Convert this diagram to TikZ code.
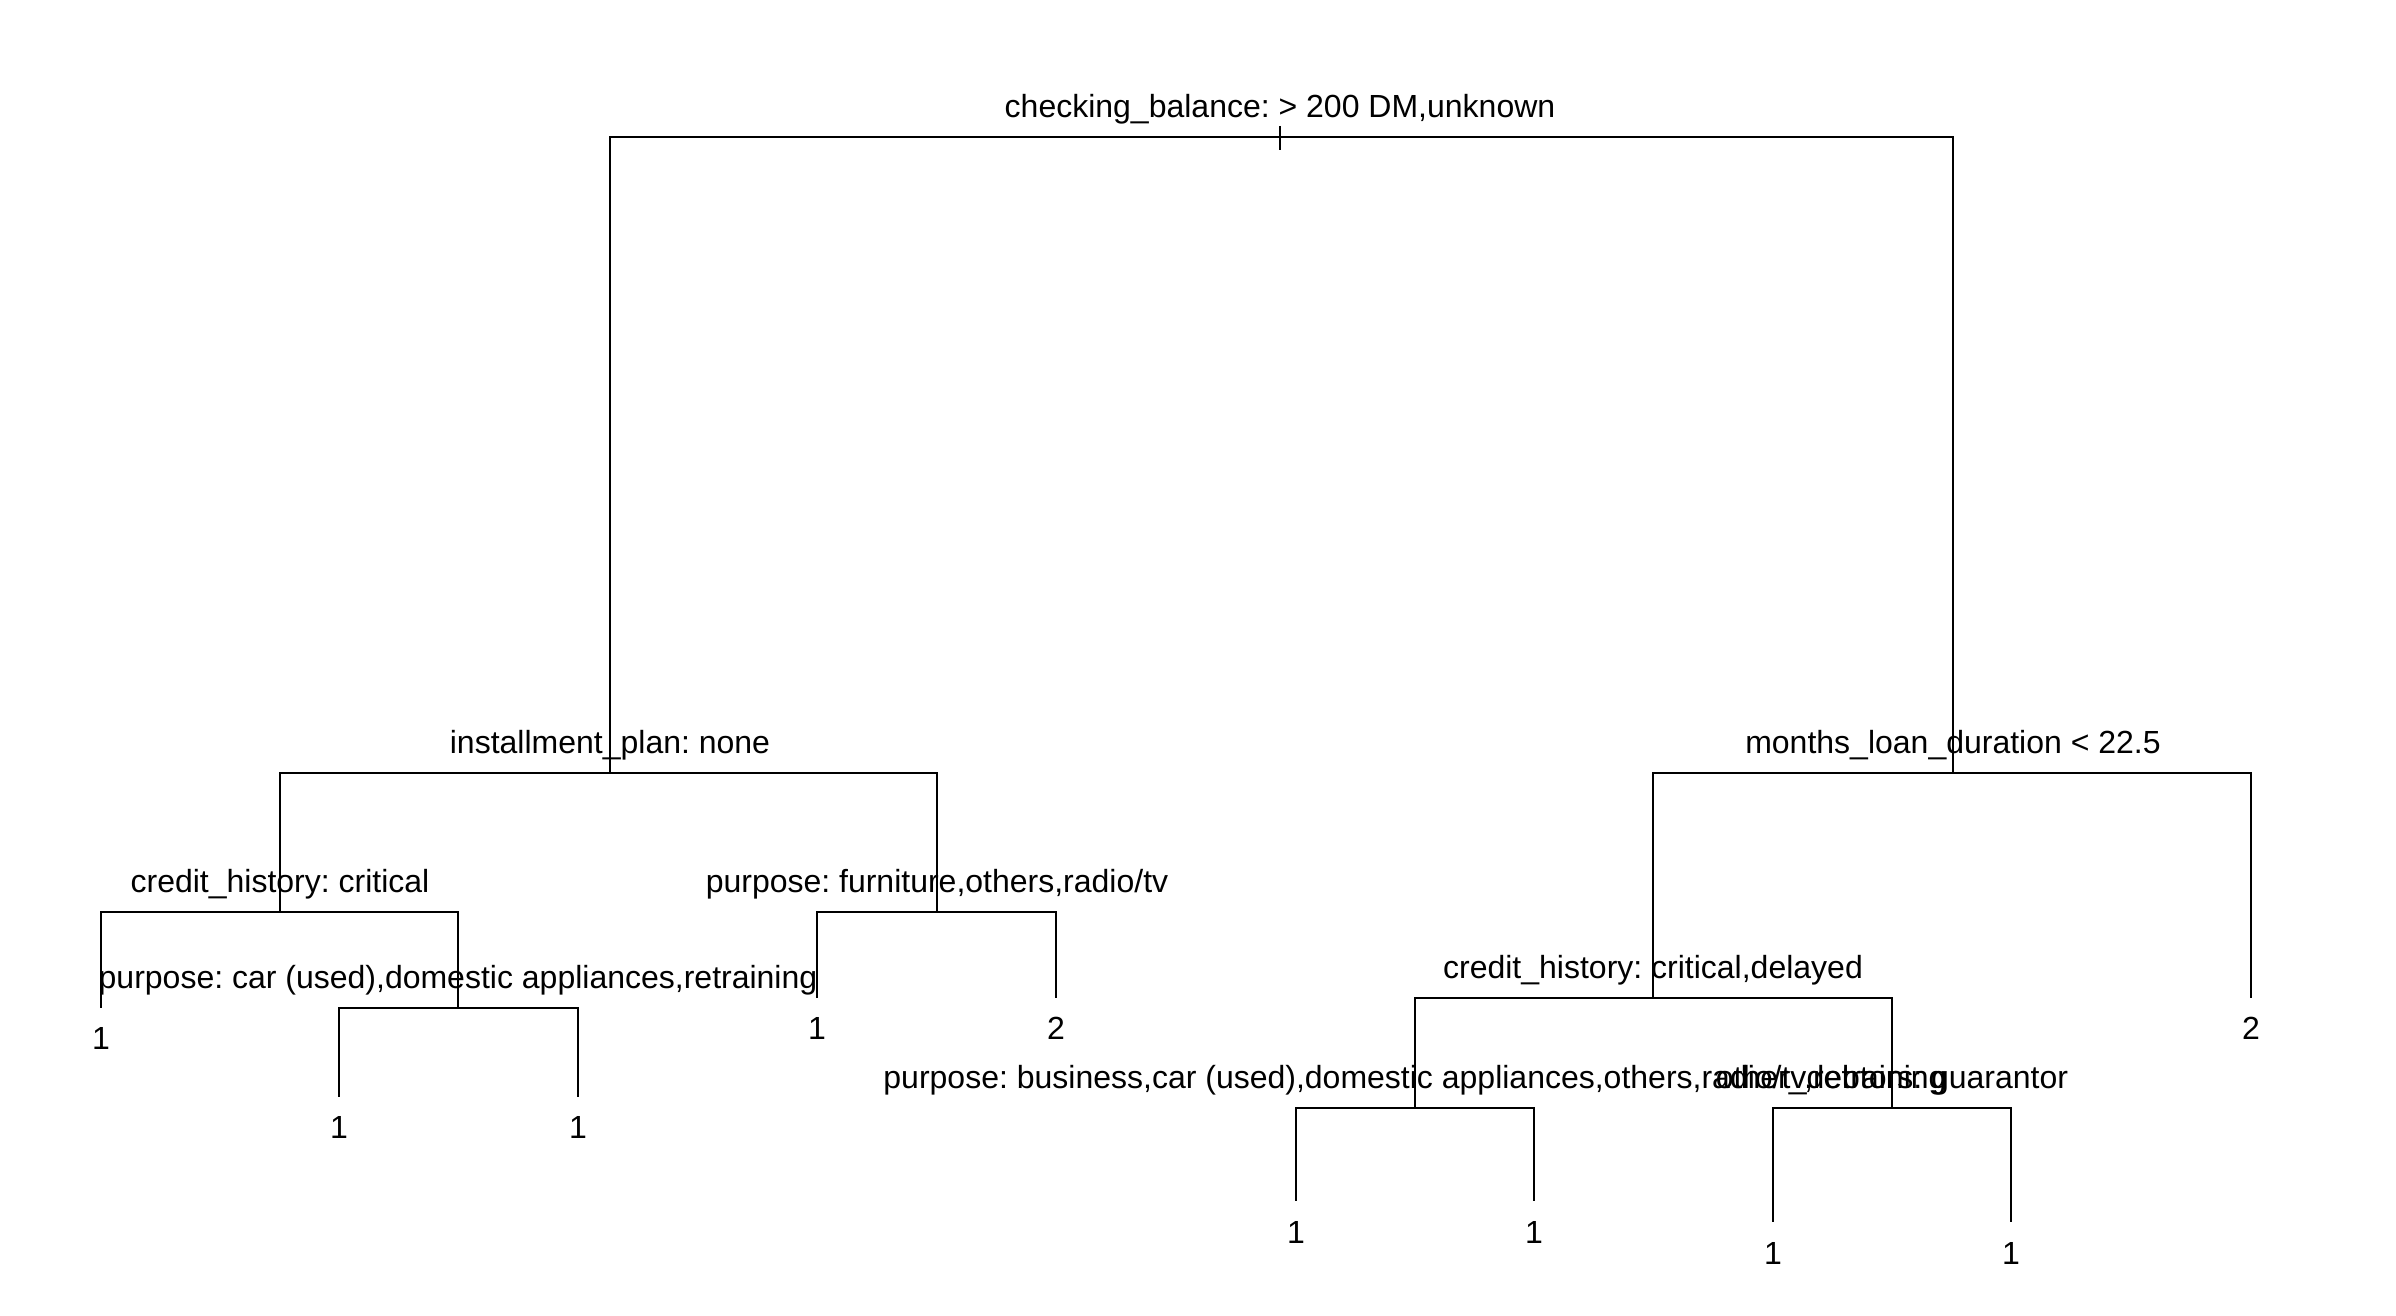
\documentclass[tikz,border=0pt]{standalone}
\usepackage{fontspec}
\setmainfont{Liberation Sans}
\frenchspacing
\usetikzlibrary{positioning}
\tikzstyle{splitlbl} = [anchor=base, inner sep=0pt, font=\fontsize{9.1}{11}\selectfont]
\tikzstyle{leaflbl} = [anchor=base, inner sep=0pt, font=\fontsize{9.1}{11}\selectfont]
\tikzstyle{elbow} = [line width=0.7pt, to path={-| (\tikztotarget)}]

\begin{document}
\begin{tikzpicture}[x=0.01cm,y=-0.01cm]
    \useasboundingbox (0,0) rectangle (2396,1316);

    % Splits
    \coordinate (root) at (1280,137);
    \coordinate (instPlan) at (610,773);
    \coordinate (loanDur) at (1953,773);
    \coordinate (credHist) at (280,912);
    \coordinate (purpFurn) at (937,912);
    \coordinate (credHistDel) at (1653,998);
    \coordinate (purpCar) at (458,1008);
    \coordinate (purpBus) at (1415,1108);
    \coordinate (otherDebt) at (1892,1108);

    % Leaves
    \coordinate (leafA) at (101,1008);
    \coordinate (leafB) at (339,1097);
    \coordinate (leafC) at (578,1097);
    \coordinate (leafD) at (817,998);
    \coordinate (leafE) at (1056,998);
    \coordinate (leafF) at (1296,1201);
    \coordinate (leafG) at (1534,1201);
    \coordinate (leafH) at (1773,1222);
    \coordinate (leafI) at (2011,1222);
    \coordinate (leafJ) at (2251,998);

    % Split labels
    \node[splitlbl] (rootTxt) at (1280,118) {checking\_balance: > 200 DM,unknown};
    \node[splitlbl] (instPlanTxt) at (610,754) {installment\_plan: none};
    \node[splitlbl] (loanDurTxt) at (1953,754) {months\_loan\_duration < 22.5};
    \node[splitlbl] (credHistTxt) at (280,893) {credit\_history: critical};
    \node[splitlbl] (purpFurnTxt) at (937,893) {purpose: furniture,others,radio/tv};
    \node[splitlbl] (credHistDelTxt) at (1653,979) {credit\_history: critical,delayed};
    \node[splitlbl] (purpCarTxt) at (458,989) {purpose: car (used),domestic appliances,retraining};
    \node[splitlbl] (purpBusTxt) at (1415,1089) {purpose: business,car (used),domestic appliances,others,radio/tv,retraining};
    \node[splitlbl] (otherDebtTxt) at (1892,1089) {other\_debtors: guarantor};

    % Leaf labels
    \node[leaflbl] (leafATxt) at (101,1050) {1};
    \node[leaflbl] (leafBTxt) at (339,1139) {1};
    \node[leaflbl] (leafCTxt) at (578,1139) {1};
    \node[leaflbl] (leafDTxt) at (817,1040) {1};
    \node[leaflbl] (leafETxt) at (1056,1040) {2};
    \node[leaflbl] (leafFTxt) at (1296,1243) {1};
    \node[leaflbl] (leafGTxt) at (1534,1243) {1};
    \node[leaflbl] (leafHTxt) at (1773,1264) {1};
    \node[leaflbl] (leafITxt) at (2011,1264) {1};
    \node[leaflbl] (leafJTxt) at (2251,1040) {2};

    % Branches
    \draw[line width=0.7pt] ([yshift=0.11cm]root) -- ([yshift=-0.13cm]root);
    \path
    (root) edge[elbow] (instPlan)
    (root) edge[elbow] (loanDur)
    (instPlan) edge[elbow] (credHist)
    (instPlan) edge[elbow] (purpFurn)
    (loanDur) edge[elbow] (credHistDel)
    (loanDur) edge[elbow] (leafJ)
    (credHist) edge[elbow] (leafA)
    (credHist) edge[elbow] (purpCar)
    (purpCar) edge[elbow] (leafB)
    (purpCar) edge[elbow] (leafC)
    (purpFurn) edge[elbow] (leafD)
    (purpFurn) edge[elbow] (leafE)
    (credHistDel) edge[elbow] (purpBus)
    (credHistDel) edge[elbow] (otherDebt)
    (purpBus) edge[elbow] (leafF)
    (purpBus) edge[elbow] (leafG)
    (otherDebt) edge[elbow] (leafH)
    (otherDebt) edge[elbow] (leafI);

\end{tikzpicture}
\end{document}
